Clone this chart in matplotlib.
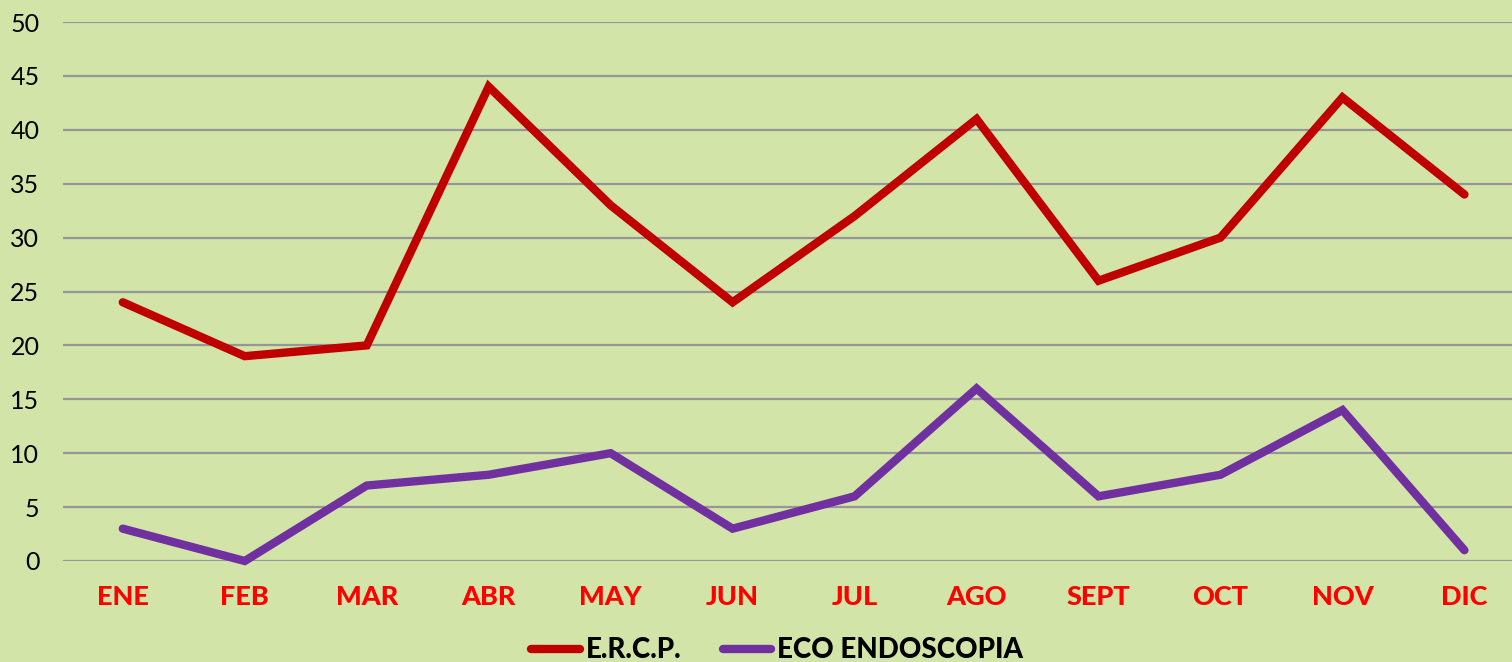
import matplotlib
matplotlib.use("Agg")
import matplotlib.pyplot as plt

months = ["ENE", "FEB", "MAR", "ABR", "MAY", "JUN", "JUL", "AGO", "SEPT", "OCT", "NOV", "DIC"]
ercp = [24, 19, 20, 44, 33, 24, 32, 41, 26, 30, 43, 34]
eco = [3, 0, 7, 8, 10, 3, 6, 16, 6, 8, 14, 1]

bg = "#d2e4a8"
plt.rcParams["font.family"] = ["Lato", "DejaVu Sans"]

fig = plt.figure(figsize=(15.12, 6.62), dpi=100, facecolor=bg)
ax = fig.add_axes([63 / 1512, 101 / 662, 1 - 63 / 1512, 539 / 662])
ax.set_facecolor(bg)

x = range(len(months))
ax.plot(x, ercp, color="#c00000", lw=6, solid_capstyle="round",
        solid_joinstyle="miter", label="E.R.C.P.", clip_on=False, zorder=3)
ax.plot(x, eco, color="#7030a0", lw=6, solid_capstyle="round",
        solid_joinstyle="miter", label="ECO ENDOSCOPIA", clip_on=False, zorder=3)

ax.set_ylim(0, 50)
ax.set_yticks(range(0, 51, 5))
ax.set_xlim(-0.49, 11.39)
ax.set_xticks(list(x))
ax.set_xticklabels(months, color="#ff0000", fontweight="black", fontsize=19.5)
ax.grid(axis="y", color="#969696", lw=1.6)
ax.set_axisbelow(True)
for s in ax.spines.values():
    s.set_visible(False)
ax.tick_params(axis="y", length=0, pad=17, labelsize=18, labelcolor="black")
ax.tick_params(axis="x", length=0, pad=17)

leg = fig.legend(loc="lower center", bbox_to_anchor=(0.514, -0.04), ncol=2,
                 frameon=False, handlelength=1.75, columnspacing=1.5,
                 handletextpad=0.2, prop={"weight": "black", "size": 20})

fig.savefig("out.png", dpi=100, facecolor=bg)
